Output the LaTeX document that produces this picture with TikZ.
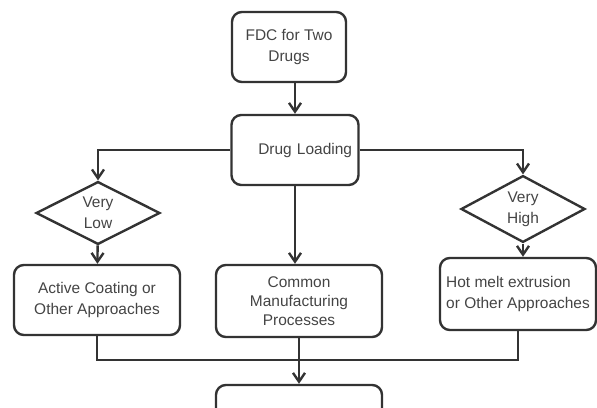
\documentclass[tikz,border=0pt]{standalone}
\usepackage{fontspec}
\setmainfont{Liberation Sans}
\usepackage{tikz}
\usetikzlibrary{arrows.meta,positioning,shapes.geometric}
\definecolor{chartline}{HTML}{333333}
\definecolor{charttext}{HTML}{444444}
\tikzset{
  stepbox/.style={draw=chartline,rounded corners=7pt,line width=1.7pt,align=center,minimum width=4.15cm,minimum height=1.75cm,inner sep=2pt,text=charttext,font=\fontsize{11}{15}\selectfont},
  choice/.style={draw=chartline,diamond,line width=1.7pt,align=center,minimum width=3.1cm,minimum height=1.3cm,inner sep=0pt,text=charttext,font=\fontsize{11}{15}\selectfont},
  flow/.style={-{Straight Barb[length=2.2mm,width=3mm]},line width=1.7pt,draw=chartline},
  joinline/.style={line width=1.7pt,draw=chartline},
}

\begin{document}
\begin{tikzpicture}[x=0.025cm,y=-0.025cm]
    \useasboundingbox (0,0) rectangle (597,407);
    \node[stepbox,minimum width=2.85cm] (fdc) at (289,47) {FDC for Two\\Drugs};
    \node[stepbox,minimum width=3.175cm,text width=2.85cm,align=right] (load) at (295,150) {Drug Loading};
    \node[choice] (low) at (98,213) {Very\\Low};
    \node[choice,minimum height=1.45cm] (high) at (523,209) {Very\\High};
    \node[stepbox] (active) at (97,300) {Active Coating or\\Other Approaches};
    \node[stepbox,minimum height=1.8cm,font=\fontsize{11}{13.5}\selectfont] (common) at (299,301) {Common\\Manufacturing\\Processes};
    \node[stepbox,minimum width=3.9cm,minimum height=1.8cm,align=left,inner sep=1pt] (hot) at (518,294) {Hot melt extrusion\\or Other Approaches};
    \node[stepbox] (final) at (299,420) {};
    \coordinate (join) at (299,360);
    \draw[flow] (load.north |- fdc.south) -- (load.north);
    \draw[flow] (load.west) -| (low.north);
    \draw[flow] (load.east) -| (high.north);
    \draw[flow] (load.south) -- (load.south |- common.north);
    \draw[flow] (low) -- (active);
    \draw[flow] (high.south) -- (high.south |- hot.north);
    \draw[joinline] (active.south) |- (join) -| (hot.south);
    \draw[joinline] (common.south) -- (join);
    \draw[flow] (join) -- (final.north);
  \end{tikzpicture}
\end{document}
